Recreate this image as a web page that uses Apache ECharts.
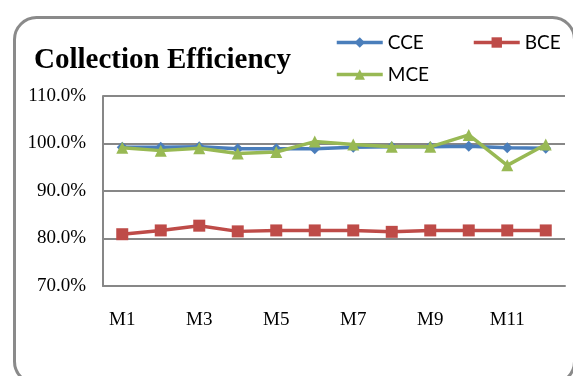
<!DOCTYPE html>
<html>
<head>
<meta charset="utf-8">
<script src="https://cdn.jsdelivr.net/npm/echarts@6/dist/echarts.min.js"></script>
<style>
  html, body { margin: 0; padding: 0; background: #fff; }
  #chart { width: 573px; height: 376px; }
</style>
</head>
<body>
<div id="chart"></div>
<script>
// Monthly collection efficiency, in percent
var months = ['M1', 'M2', 'M3', 'M4', 'M5', 'M6', 'M7', 'M8', 'M9', 'M10', 'M11', 'M12'];
var cce = [99.2, 99.2, 99.3, 98.9, 98.9, 98.9, 99.2, 99.3, 99.3, 99.4, 99.1, 99.0];
var bce = [80.9, 81.7, 82.7, 81.5, 81.7, 81.7, 81.7, 81.4, 81.7, 81.7, 81.7, 81.7];
var mce = [99.1, 98.5, 99.0, 97.9, 98.2, 100.4, 99.8, 99.3, 99.3, 101.8, 95.4, 99.8];

var serif = '"Liberation Serif", "DejaVu Serif", serif';
var sans = 'Lato, "Open Sans", sans-serif';
var gridGray = '#878787';

var chart = echarts.init(document.getElementById('chart'), null, { renderer: 'canvas' });

function legendItem(name, left, top) {
  return {
    data: [name],
    left: left,
    top: top,
    itemWidth: 46,
    itemHeight: 13,
    itemGap: 0,
    padding: 0,
    lineStyle: { width: 3.5 },
    textStyle: { fontFamily: sans, fontSize: 19, color: '#000' },
    selectedMode: false
  };
}

chart.setOption({
  animation: false,
  backgroundColor: '#fff',
  graphic: [{
    type: 'rect',
    left: 12,
    top: 15,
    shape: { width: 560, height: 366, r: 22 },
    style: { fill: 'none', stroke: '#8a8a8a', lineWidth: 3 },
    z: 0
  }],
  title: {
    text: 'Collection Efficiency',
    left: 34,
    top: 46,
    padding: 0,
    textStyle: { fontFamily: serif, fontWeight: 'bold', fontSize: 29, color: '#000' }
  },
  legend: [
    legendItem('CCE', 335, 33),
    legendItem('BCE', 472, 33),
    legendItem('MCE', 335, 65)
  ],
  grid: { left: 103, right: 8, top: 96, bottom: 90 },
  xAxis: {
    type: 'category',
    data: months,
    boundaryGap: true,
    axisLine: { lineStyle: { color: gridGray, width: 2 } },
    axisTick: { show: false },
    axisLabel: {
      interval: 1,
      margin: 25,
      fontFamily: serif,
      fontSize: 19,
      color: '#000'
    }
  },
  yAxis: {
    type: 'value',
    min: 70,
    max: 110,
    interval: 10,
    axisLine: { show: true, lineStyle: { color: gridGray, width: 2 } },
    axisTick: { show: false },
    splitLine: { lineStyle: { color: gridGray, width: 2 } },
    axisLabel: {
      margin: 17,
      fontFamily: serif,
      fontSize: 19,
      color: '#000',
      formatter: function (v) { return v.toFixed(1) + '%'; }
    }
  },
  series: [
    {
      name: 'CCE', type: 'line', data: cce,
      symbol: 'diamond', symbolSize: 11,
      lineStyle: { color: '#4A7EBB', width: 3.5 },
      itemStyle: { color: '#4A7EBB' },
      z: 3
    },
    {
      name: 'BCE', type: 'line', data: bce,
      symbol: 'rect', symbolSize: 12,
      lineStyle: { color: '#BE4B48', width: 3.5 },
      itemStyle: { color: '#BE4B48' },
      z: 3
    },
    {
      name: 'MCE', type: 'line', data: mce,
      symbol: 'triangle', symbolSize: 12,
      lineStyle: { color: '#98B954', width: 3.5 },
      itemStyle: { color: '#98B954' },
      z: 4
    }
  ]
});
</script>
</body>
</html>
